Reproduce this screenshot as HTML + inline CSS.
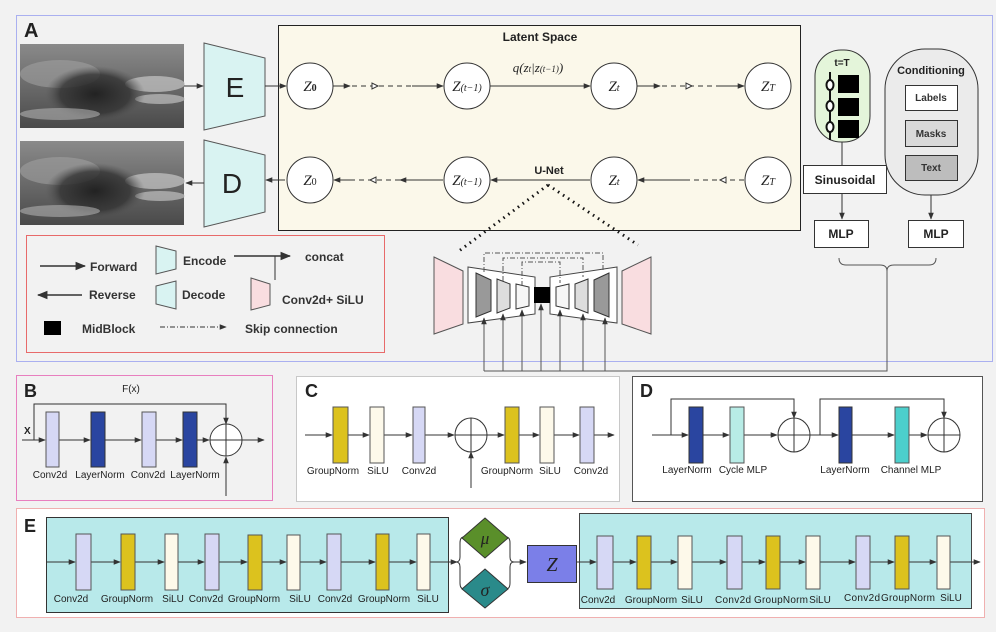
<!DOCTYPE html>
<html><head><meta charset="utf-8"><style>
body{margin:0;background:#f2f2f2;}
svg{display:block;font-family:"Liberation Sans",sans-serif;}
.l{font-size:10px;fill:#222;text-anchor:middle;}
.b{font-weight:bold;}
.m{font-family:"Liberation Serif",serif;font-style:italic;}
</style></head><body>
<svg width="996" height="632" viewBox="0 0 996 632" xmlns="http://www.w3.org/2000/svg">
<defs>
<marker id="a" viewBox="0 0 10 10" refX="9" refY="5" markerWidth="7" markerHeight="7" orient="auto-start-reverse"><path d="M0,1 L10,5 L0,9 z" fill="#333"/></marker>
<radialGradient id="blob" cx="0.5" cy="0.5" r="0.5"><stop offset="0" stop-color="#222"/><stop offset="0.7" stop-color="#333" stop-opacity="0.8"/><stop offset="1" stop-color="#555" stop-opacity="0"/></radialGradient>
<linearGradient id="bg" x1="0" y1="0" x2="0" y2="1"><stop offset="0" stop-color="#8a8a8a"/><stop offset="0.5" stop-color="#6a6a6a"/><stop offset="1" stop-color="#4a4a4a"/></linearGradient>
<g id="us">
<rect width="164" height="84" fill="url(#bg)"/>
<ellipse cx="40" cy="30" rx="40" ry="14" fill="#a0a0a0" opacity="0.6"/>
<ellipse cx="135" cy="40" rx="30" ry="8" fill="#c8c8c8" opacity="0.7"/>
<ellipse cx="140" cy="55" rx="25" ry="5" fill="#d0d0d0" opacity="0.6"/>
<ellipse cx="75" cy="50" rx="50" ry="28" fill="url(#blob)"/>
<ellipse cx="40" cy="70" rx="40" ry="6" fill="#b0b0b0" opacity="0.6"/>
</g>
</defs>
<rect x="0" y="0" width="996" height="632" fill="#f2f2f2"/>
<!-- Panel A -->
<rect x="16.5" y="15.5" width="976" height="346" fill="#f2f2f2" stroke="#aab0f0"/>
<text x="24" y="37" font-size="20" class="b" fill="#222">A</text>
<use href="#us" x="20" y="44"/>
<use href="#us" x="20" y="141"/>
<line x1="184" y1="86" x2="203" y2="86" stroke="#333" marker-end="url(#a)"/>
<polygon points="204,43 265,58 265,116 204,130" fill="#d9f3f2" stroke="#555"/>
<text x="235" y="97" font-size="28" text-anchor="middle" fill="#222">E</text>
<polygon points="204,140 265,155 265,212 204,227" fill="#d9f3f2" stroke="#555"/>
<text x="232" y="193" font-size="28" text-anchor="middle" fill="#222">D</text>
<line x1="204" y1="183" x2="186" y2="183" stroke="#333" marker-end="url(#a)"/>
<!-- latent -->
<rect x="278.5" y="25.5" width="522" height="205" fill="#fbf8ea" stroke="#222"/>
<text x="540" y="41" font-size="12" class="b" text-anchor="middle" fill="#222">Latent Space</text>
<line x1="265" y1="86" x2="286" y2="86" stroke="#333" marker-end="url(#a)"/>
<line x1="285" y1="180" x2="266" y2="180" stroke="#333" marker-end="url(#a)"/>
<g stroke="#333" fill="#fff">
<circle cx="310" cy="86" r="23"/><circle cx="467" cy="86" r="23"/><circle cx="614" cy="86" r="23"/><circle cx="768" cy="86" r="23"/>
<circle cx="310" cy="180" r="23"/><circle cx="467" cy="180" r="23"/><circle cx="614" cy="180" r="23"/><circle cx="768" cy="180" r="23"/>
</g>
<g class="m" font-size="15" text-anchor="middle" fill="#222">
<text x="310" y="91">Z<tspan font-size="10" font-style="normal" font-weight="bold">0</tspan></text>
<text x="467" y="91">Z<tspan font-size="10">(t−1)</tspan></text>
<text x="614" y="91">Z<tspan font-size="10">t</tspan></text>
<text x="768" y="91">Z<tspan font-size="10">T</tspan></text>
<text x="310" y="185">Z<tspan font-size="10" font-style="normal">0</tspan></text>
<text x="467" y="185">Z<tspan font-size="10">(t−1)</tspan></text>
<text x="614" y="185">Z<tspan font-size="10">t</tspan></text>
<text x="768" y="185">Z<tspan font-size="10">T</tspan></text>
<text x="538" y="72" font-size="13">q(z<tspan font-size="9">t</tspan>|z<tspan font-size="9">(t−1)</tspan>)</text>
</g>
<g stroke="#333" fill="none">
<line x1="333" y1="86" x2="350" y2="86" marker-end="url(#a)"/>
<line x1="352" y1="86" x2="412" y2="86" stroke-dasharray="5,4"/>
<line x1="412" y1="86" x2="443" y2="86" marker-end="url(#a)"/>
<line x1="490" y1="86" x2="590" y2="86" marker-end="url(#a)"/>
<line x1="637" y1="86" x2="660" y2="86" marker-end="url(#a)"/>
<line x1="662" y1="86" x2="720" y2="86" stroke-dasharray="5,4"/>
<line x1="720" y1="86" x2="744" y2="86" marker-end="url(#a)"/>
<line x1="744" y1="180" x2="690" y2="180" stroke-dasharray="5,4"/>
<line x1="690" y1="180" x2="638" y2="180" marker-end="url(#a)"/>
<line x1="590" y1="180" x2="491" y2="180" marker-end="url(#a)"/>
<line x1="443" y1="180" x2="400" y2="180" marker-end="url(#a)"/>
<line x1="400" y1="180" x2="350" y2="180" stroke-dasharray="5,4"/>
<line x1="350" y1="180" x2="334" y2="180" marker-end="url(#a)"/>
</g>
<path d="M378,86 l-6,-3 v6z M692,86 l-6,-3 v6z M370,180 l6,-3 v6z M720,180 l6,-3 v6z" fill="#fff" stroke="#333"/>
<text x="549" y="174" font-size="11" class="b" text-anchor="middle" fill="#222">U-Net</text>
<line x1="548" y1="185" x2="459" y2="251" stroke="#111" stroke-width="3" stroke-dasharray="1.5,4.5"/>
<line x1="548" y1="185" x2="638" y2="245" stroke="#111" stroke-width="3" stroke-dasharray="1.5,4.5"/>
<!-- U-Net -->
<polygon points="434,257 463,271 463,324 434,334" fill="#f9dde0" stroke="#555"/>
<polygon points="651,257 622,271 622,324 651,334" fill="#f9dde0" stroke="#555"/>
<polygon points="468,267 535,277 535,314 468,323" fill="#fff" stroke="#444"/>
<polygon points="617,267 550,277 550,314 617,323" fill="#fff" stroke="#444"/>
<polygon points="476,273 491,280 491,311 476,317" fill="#999" stroke="#333"/>
<polygon points="497,279 510,284 510,308 497,313" fill="#ddd" stroke="#333"/>
<polygon points="516,284 529,287 529,306 516,309" fill="#f6f6f6" stroke="#333"/>
<polygon points="609,273 594,280 594,311 609,317" fill="#999" stroke="#333"/>
<polygon points="588,279 575,284 575,308 588,313" fill="#ddd" stroke="#333"/>
<polygon points="569,284 556,287 556,306 569,309" fill="#f6f6f6" stroke="#333"/>
<rect x="534" y="287" width="16" height="16" fill="#000"/>
<g stroke="#555" fill="none" stroke-dasharray="5,2,1,2">
<path d="M484,272 V253 H603 V270"/><path d="M503,281 V258 H583 V277"/><path d="M522,286 V262 H560 V283"/>
</g>
<g stroke="#555" fill="none">
<line x1="484" y1="371" x2="484" y2="318" marker-end="url(#a)"/>
<line x1="503" y1="371" x2="503" y2="314" marker-end="url(#a)"/>
<line x1="522" y1="371" x2="522" y2="310" marker-end="url(#a)"/>
<line x1="541" y1="371" x2="541" y2="304" marker-end="url(#a)"/>
<line x1="560" y1="371" x2="560" y2="310" marker-end="url(#a)"/>
<line x1="583" y1="371" x2="583" y2="314" marker-end="url(#a)"/>
<line x1="605" y1="371" x2="605" y2="318" marker-end="url(#a)"/>
<path d="M484,371 H887 V270"/>
<path d="M839,258 q0,7 7,7 h34 q7,0 7,6 q0,-6 7,-6 h35 q7,0 7,-7"/>
</g>
<!-- right side -->
<rect x="815" y="50" width="55" height="92" rx="26" fill="#e4f5da" stroke="#333"/>
<text x="842" y="66" font-size="10" class="b" text-anchor="middle" fill="#222">t=T</text>
<line x1="830" y1="72" x2="830" y2="140" stroke="#111" stroke-width="2"/>
<g fill="#fff" stroke="#111" stroke-width="2"><ellipse cx="830" cy="85" rx="3.5" ry="5"/><ellipse cx="830" cy="106" rx="3.5" ry="5"/><ellipse cx="830" cy="127" rx="3.5" ry="5"/></g>
<rect x="838" y="75" width="21" height="18" fill="#000"/><rect x="838" y="98" width="21" height="18" fill="#000"/><rect x="838" y="120" width="21" height="18" fill="#000"/>
<line x1="842" y1="142" x2="842" y2="165" stroke="#333"/>
<rect x="803.5" y="165.5" width="83" height="28" fill="#fff" stroke="#333"/>
<text x="845" y="184" font-size="12" class="b" text-anchor="middle" fill="#222">Sinusoidal</text>
<line x1="842" y1="194" x2="842" y2="219" stroke="#333" marker-end="url(#a)"/>
<rect x="814.5" y="220.5" width="54" height="27" fill="#fff" stroke="#333"/>
<text x="841" y="238" font-size="12" class="b" text-anchor="middle" fill="#222">MLP</text>
<rect x="885" y="49" width="93" height="146" rx="40" fill="#ebebeb" stroke="#333"/>
<text x="931" y="74" font-size="11" class="b" text-anchor="middle" fill="#222">Conditioning</text>
<rect x="905.5" y="85.5" width="52" height="25" fill="#fff" stroke="#333"/>
<text x="931" y="101" font-size="10" class="b" text-anchor="middle" fill="#333">Labels</text>
<rect x="905.5" y="120.5" width="52" height="26" fill="#d9d9d9" stroke="#333"/>
<text x="931" y="137" font-size="10" class="b" text-anchor="middle" fill="#333">Masks</text>
<rect x="905.5" y="155.5" width="52" height="25" fill="#bdbdbd" stroke="#333"/>
<text x="931" y="171" font-size="10" class="b" text-anchor="middle" fill="#333">Text</text>
<line x1="931" y1="195" x2="931" y2="219" stroke="#333" marker-end="url(#a)"/>
<rect x="908.5" y="220.5" width="55" height="27" fill="#fff" stroke="#333"/>
<text x="936" y="238" font-size="12" class="b" text-anchor="middle" fill="#222">MLP</text>
<!-- legend -->
<rect x="26.5" y="235.5" width="358" height="117" fill="#f2f2f2" stroke="#e86a6a"/>
<g font-size="12" class="b" fill="#333">
<line x1="40" y1="266" x2="85" y2="266" stroke="#333" stroke-width="1.5" marker-end="url(#a)"/>
<text x="90" y="271">Forward</text>
<line x1="82" y1="295" x2="38" y2="295" stroke="#333" stroke-width="1.5" marker-end="url(#a)"/>
<text x="89" y="299">Reverse</text>
<rect x="44" y="321" width="17" height="14" fill="#000"/>
<text x="82" y="333">MidBlock</text>
<polygon points="156,246 176,251 176,269 156,274" fill="#d9f3f2" stroke="#555"/>
<text x="183" y="265">Encode</text>
<polygon points="156,286 176,281 176,309 156,304" fill="#d9f3f2" stroke="#555"/>
<text x="182" y="299">Decode</text>
<line x1="234" y1="256" x2="290" y2="256" stroke="#333" stroke-width="1.5" marker-end="url(#a)"/>
<line x1="275" y1="256" x2="275" y2="280" stroke="#333"/>
<text x="305" y="261">concat</text>
<polygon points="251,278 270,284 270,305 251,310" fill="#f9dde0" stroke="#555"/>
<text x="282" y="304">Conv2d+ SiLU</text>
<line x1="160" y1="327" x2="226" y2="327" stroke="#333" stroke-dasharray="5,2,1,2" marker-end="url(#a)"/>
<text x="245" y="333">Skip connection</text>
</g>
<!-- B -->
<rect x="16.5" y="375.5" width="256" height="125" fill="#f2f2f2" stroke="#e87fbf"/>
<text x="24" y="397" font-size="18" class="b" fill="#222">B</text>
<text x="131" y="392" font-size="10" text-anchor="middle" fill="#222">F(x)</text>
<text x="24" y="434" font-size="10" class="b" fill="#222">X</text>
<g stroke="#333" fill="none">
<path d="M34,440 V404 H226 V424" marker-end="url(#a)"/>
<line x1="22" y1="440" x2="45" y2="440" marker-end="url(#a)"/>
<line x1="59" y1="440" x2="90" y2="440" marker-end="url(#a)"/>
<line x1="105" y1="440" x2="141" y2="440" marker-end="url(#a)"/>
<line x1="156" y1="440" x2="182" y2="440" marker-end="url(#a)"/>
<line x1="197" y1="440" x2="209" y2="440" marker-end="url(#a)"/>
<line x1="242" y1="440" x2="264" y2="440" marker-end="url(#a)"/>
<line x1="226" y1="496" x2="226" y2="457" marker-end="url(#a)"/>
</g>
<rect x="46" y="412" width="13" height="55" fill="#d6d8f5" stroke="#555"/>
<rect x="91" y="412" width="14" height="55" fill="#2a45a0" stroke="#333"/>
<rect x="142" y="412" width="14" height="55" fill="#d6d8f5" stroke="#555"/>
<rect x="183" y="412" width="14" height="55" fill="#2a45a0" stroke="#333"/>
<circle cx="226" cy="440" r="16" fill="#fff" stroke="#333"/>
<path d="M210,440 H242 M226,424 V456" stroke="#333"/>
<g class="l"><text x="50" y="478">Conv2d</text><text x="100" y="478">LayerNorm</text><text x="148" y="478">Conv2d</text><text x="195" y="478">LayerNorm</text></g>
<!-- C -->
<rect x="296.5" y="376.5" width="323" height="125" fill="#fff" stroke="#c8c8c8"/>
<text x="305" y="397" font-size="18" class="b" fill="#222">C</text>
<g stroke="#333" fill="none">
<line x1="305" y1="435" x2="332" y2="435" marker-end="url(#a)"/>
<line x1="348" y1="435" x2="369" y2="435" marker-end="url(#a)"/>
<line x1="384" y1="435" x2="412" y2="435" marker-end="url(#a)"/>
<line x1="425" y1="435" x2="454" y2="435" marker-end="url(#a)"/>
<line x1="487" y1="435" x2="504" y2="435" marker-end="url(#a)"/>
<line x1="519" y1="435" x2="539" y2="435" marker-end="url(#a)"/>
<line x1="554" y1="435" x2="579" y2="435" marker-end="url(#a)"/>
<line x1="594" y1="435" x2="614" y2="435" marker-end="url(#a)"/>
<line x1="471" y1="488" x2="471" y2="452" marker-end="url(#a)"/>
</g>
<rect x="333" y="407" width="15" height="56" fill="#dcc21e" stroke="#555"/>
<rect x="370" y="407" width="14" height="56" fill="#fdf9ea" stroke="#555"/>
<rect x="413" y="407" width="12" height="56" fill="#d6d8f5" stroke="#555"/>
<ellipse cx="471" cy="435" rx="16" ry="17" fill="#fff" stroke="#333"/>
<path d="M455,435 H487 M471,418 V452" stroke="#333"/>
<rect x="505" y="407" width="14" height="56" fill="#dcc21e" stroke="#555"/>
<rect x="540" y="407" width="14" height="56" fill="#fdf9ea" stroke="#555"/>
<rect x="580" y="407" width="14" height="56" fill="#d6d8f5" stroke="#555"/>
<g class="l"><text x="333" y="474">GroupNorm</text><text x="378" y="474">SiLU</text><text x="419" y="474">Conv2d</text><text x="507" y="474">GroupNorm</text><text x="550" y="474">SiLU</text><text x="591" y="474">Conv2d</text></g>
<!-- D -->
<rect x="632.5" y="376.5" width="350" height="125" fill="#fff" stroke="#555"/>
<text x="640" y="397" font-size="18" class="b" fill="#222">D</text>
<g stroke="#333" fill="none">
<path d="M671,435 V399 H794 V418" marker-end="url(#a)"/>
<path d="M820,435 V399 H944 V418" marker-end="url(#a)"/>
<line x1="652" y1="435" x2="688" y2="435" marker-end="url(#a)"/>
<line x1="703" y1="435" x2="729" y2="435" marker-end="url(#a)"/>
<line x1="744" y1="435" x2="777" y2="435" marker-end="url(#a)"/>
<line x1="810" y1="435" x2="838" y2="435" marker-end="url(#a)"/>
<line x1="852" y1="435" x2="894" y2="435" marker-end="url(#a)"/>
<line x1="909" y1="435" x2="927" y2="435" marker-end="url(#a)"/>
</g>
<rect x="689" y="407" width="14" height="56" fill="#2a45a0" stroke="#333"/>
<rect x="730" y="407" width="14" height="56" fill="#b8ece6" stroke="#555"/>
<ellipse cx="794" cy="435" rx="16" ry="17" fill="#fff" stroke="#333"/>
<path d="M778,435 H810 M794,418 V452" stroke="#333"/>
<rect x="839" y="407" width="13" height="56" fill="#2a45a0" stroke="#333"/>
<rect x="895" y="407" width="14" height="56" fill="#4ccfcc" stroke="#555"/>
<ellipse cx="944" cy="435" rx="16" ry="17" fill="#fff" stroke="#333"/>
<path d="M928,435 H960 M944,418 V452" stroke="#333"/>
<g class="l"><text x="687" y="473">LayerNorm</text><text x="743" y="473">Cycle MLP</text><text x="845" y="473">LayerNorm</text><text x="911" y="473">Channel MLP</text></g>
<!-- E -->
<rect x="16.5" y="508.5" width="968" height="109" fill="#fff" stroke="#f0b0b0"/>
<text x="24" y="532" font-size="18" class="b" fill="#222">E</text>
<rect x="46.5" y="517.5" width="402" height="95" fill="#b8e9ea" stroke="#333"/>
<rect x="579.5" y="513.5" width="392" height="95" fill="#b8e9ea" stroke="#444"/>
<g stroke="#333" fill="none">
<line x1="46" y1="562" x2="75" y2="562" marker-end="url(#a)"/>
<line x1="91" y1="562" x2="120" y2="562" marker-end="url(#a)"/>
<line x1="135" y1="562" x2="164" y2="562" marker-end="url(#a)"/>
<line x1="178" y1="562" x2="204" y2="562" marker-end="url(#a)"/>
<line x1="219" y1="562" x2="247" y2="562" marker-end="url(#a)"/>
<line x1="262" y1="562" x2="286" y2="562" marker-end="url(#a)"/>
<line x1="300" y1="562" x2="326" y2="562" marker-end="url(#a)"/>
<line x1="341" y1="562" x2="375" y2="562" marker-end="url(#a)"/>
<line x1="389" y1="562" x2="416" y2="562" marker-end="url(#a)"/>
<line x1="430" y1="562" x2="457" y2="562" marker-end="url(#a)"/>
<line x1="513" y1="562" x2="526" y2="562" marker-end="url(#a)"/>
<line x1="577" y1="562" x2="596" y2="562" marker-end="url(#a)"/>
<line x1="613" y1="562" x2="636" y2="562" marker-end="url(#a)"/>
<line x1="651" y1="562" x2="677" y2="562" marker-end="url(#a)"/>
<line x1="692" y1="562" x2="726" y2="562" marker-end="url(#a)"/>
<line x1="742" y1="562" x2="765" y2="562" marker-end="url(#a)"/>
<line x1="780" y1="562" x2="805" y2="562" marker-end="url(#a)"/>
<line x1="820" y1="562" x2="855" y2="562" marker-end="url(#a)"/>
<line x1="870" y1="562" x2="894" y2="562" marker-end="url(#a)"/>
<line x1="909" y1="562" x2="936" y2="562" marker-end="url(#a)"/>
<line x1="950" y1="562" x2="980" y2="562" marker-end="url(#a)"/>
<path d="M464,537 q-4,0 -4,6 v14 q0,5 -4,5 q4,0 4,5 v16 q0,6 4,6"/>
<path d="M506,537 q4,0 4,6 v14 q0,5 4,5 q-4,0 -4,5 v16 q0,6 -4,6"/>
</g>
<g stroke="#555">
<rect x="76" y="534" width="15" height="56" fill="#d6d8f5"/>
<rect x="121" y="534" width="14" height="56" fill="#dcc21e"/>
<rect x="165" y="534" width="13" height="56" fill="#fdf9ea"/>
<rect x="205" y="534" width="14" height="56" fill="#d6d8f5"/>
<rect x="248" y="535" width="14" height="55" fill="#dcc21e"/>
<rect x="287" y="535" width="13" height="55" fill="#fdf9ea"/>
<rect x="327" y="534" width="14" height="56" fill="#d6d8f5"/>
<rect x="376" y="534" width="13" height="56" fill="#dcc21e"/>
<rect x="417" y="534" width="13" height="56" fill="#fdf9ea"/>
<rect x="597" y="536" width="16" height="53" fill="#d6d8f5"/>
<rect x="637" y="536" width="14" height="53" fill="#dcc21e"/>
<rect x="678" y="536" width="14" height="53" fill="#fdf9ea"/>
<rect x="727" y="536" width="15" height="53" fill="#d6d8f5"/>
<rect x="766" y="536" width="14" height="53" fill="#dcc21e"/>
<rect x="806" y="536" width="14" height="53" fill="#fdf9ea"/>
<rect x="856" y="536" width="14" height="53" fill="#d6d8f5"/>
<rect x="895" y="536" width="14" height="53" fill="#dcc21e"/>
<rect x="937" y="536" width="13" height="53" fill="#fdf9ea"/>
</g>
<polygon points="485,518 508,538 485,558 462,538" fill="#5a8f2a" stroke="#333"/>
<polygon points="485,569 508,589 485,608 462,589" fill="#2a8a8a" stroke="#333"/>
<text x="485" y="544" font-size="17" class="m" text-anchor="middle" fill="#222">μ</text>
<text x="485" y="596" font-size="18" class="m" text-anchor="middle" fill="#222">σ</text>
<rect x="527.5" y="545.5" width="49" height="37" fill="#7b7fe8" stroke="#333"/>
<text x="552" y="571" font-size="20" class="m" text-anchor="middle" fill="#222">Z</text>
<g class="l"><text x="71" y="602">Conv2d</text><text x="127" y="602">GroupNorm</text><text x="173" y="602">SiLU</text><text x="206" y="602">Conv2d</text><text x="254" y="602">GroupNorm</text><text x="300" y="602">SiLU</text><text x="335" y="602">Conv2d</text><text x="384" y="602">GroupNorm</text><text x="428" y="602">SiLU</text>
<text x="598" y="603">Conv2d</text><text x="651" y="603">GroupNorm</text><text x="692" y="603">SiLU</text><text x="733" y="603" textLength="36">Conv2d</text><text x="781" y="603" textLength="54">GroupNorm</text><text x="820" y="603">SiLU</text><text x="862" y="601" textLength="36">Conv2d</text><text x="908" y="601" textLength="54">GroupNorm</text><text x="951" y="601">SiLU</text></g>
</svg>
</body></html>
